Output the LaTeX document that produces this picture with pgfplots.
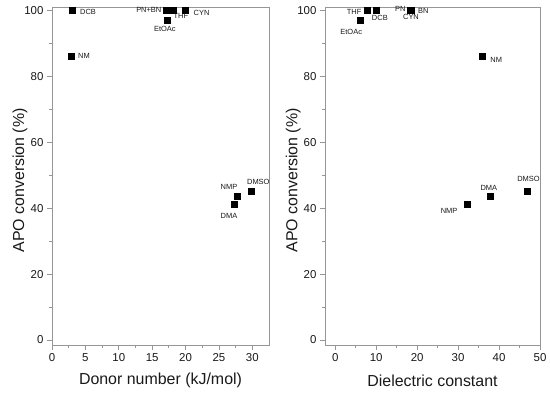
\documentclass[border=0pt]{standalone}
\usepackage{fontspec}
\setmainfont{Liberation Sans}
\usepackage{pgfplots}
\pgfplotsset{compat=1.18}
\definecolor{axgray}{RGB}{150,150,150}
\definecolor{txt}{RGB}{25,25,25}
\tikzset{lab/.style={font=\fontsize{7.5}{9}\selectfont, text=txt, inner sep=0pt, anchor=center},
  pts/.style={only marks, mark=square*, mark size=3bp, draw=black, fill=black, mark options={solid, fill=black, draw=black}}}
\pgfplotsset{
 myaxis/.style={
  scale only axis, height=338bp,
  ymin=-1.5, ymax=101, ytick={0,20,...,100}, minor y tick num=1,
  minor x tick num=1,
  axis line style={axgray, line width=0.8pt},
  every tick/.style={axgray, line width=0.8pt},
  major tick length=5bp, minor tick length=3bp,
  tick pos=left, tick align=outside,
  ticklabel style={font=\fontsize{11.5}{12}\selectfont, text=txt},
  label style={font=\fontsize{16}{18}\selectfont, text=txt},
  ylabel={APO conversion (\%)},
  ylabel style={at={(axis description cs:-0.148,0.487)}, anchor=center, rotate=0},
  xlabel style={at={(axis description cs:0.5,-0.105)}, anchor=center},
  /pgf/number format/assume math mode=true,
  clip=false,
 },
}
\begin{document}
\begin{tikzpicture}
\begin{axis}[myaxis, width=217bp, at={(52bp,48bp)}, anchor=south west,
  xmin=0, xmax=32.5, xtick={0,5,...,30},
  xlabel={Donor number (kJ/mol)}]
\addplot[pts] coordinates {(3.0,100) (2.85,86) (17.1,100) (17.6,100) (18.1,100) (17.2,97) (20.0,100) (27.3,41.2) (27.8,43.6) (29.8,45.2)};
\node[lab] at (axis cs:5.4,99.4) {DCB};
\node[lab] at (axis cs:4.8,86.1) {NM};
\node[lab] at (axis cs:14.5,100.1) {PN+BN};
\node[lab] at (axis cs:19.3,98.2) {THF};
\node[lab] at (axis cs:16.9,94.5) {EtOAc};
\node[lab] at (axis cs:22.4,99.1) {CYN};
\node[lab] at (axis cs:26.5,46.4) {NMP};
\node[lab] at (axis cs:30.9,48.0) {DMSO};
\node[lab] at (axis cs:26.5,37.6) {DMA};
\end{axis}
\begin{axis}[myaxis, width=215bp, at={(325bp,48bp)}, anchor=south west,
  xmin=-2.5, xmax=50, xtick={0,10,...,50},
  xlabel={Dielectric constant}]
\addplot[pts] coordinates {(7.7,100) (10.0,100) (6.1,97) (18.3,100) (18.5,100) (18.4,100) (36.0,86.2) (32.3,41.3) (37.9,43.6) (46.8,45.2)};
\node[lab] at (axis cs:4.6,99.6) {THF};
\node[lab] at (axis cs:10.9,97.6) {DCB};
\node[lab] at (axis cs:15.9,100.3) {PN};
\node[lab] at (axis cs:21.5,99.7) {BN};
\node[lab] at (axis cs:18.5,97.9) {CYN};
\node[lab] at (axis cs:3.9,93.3) {EtOAc};
\node[lab] at (axis cs:39.3,84.8) {NM};
\node[lab] at (axis cs:27.8,39.2) {NMP};
\node[lab] at (axis cs:37.5,46.1) {DMA};
\node[lab] at (axis cs:47.2,48.9) {DMSO};
\end{axis}
\pgfresetboundingbox
\path[use as bounding box] (0,0) rectangle (550bp,393bp);
\end{tikzpicture}
\end{document}
